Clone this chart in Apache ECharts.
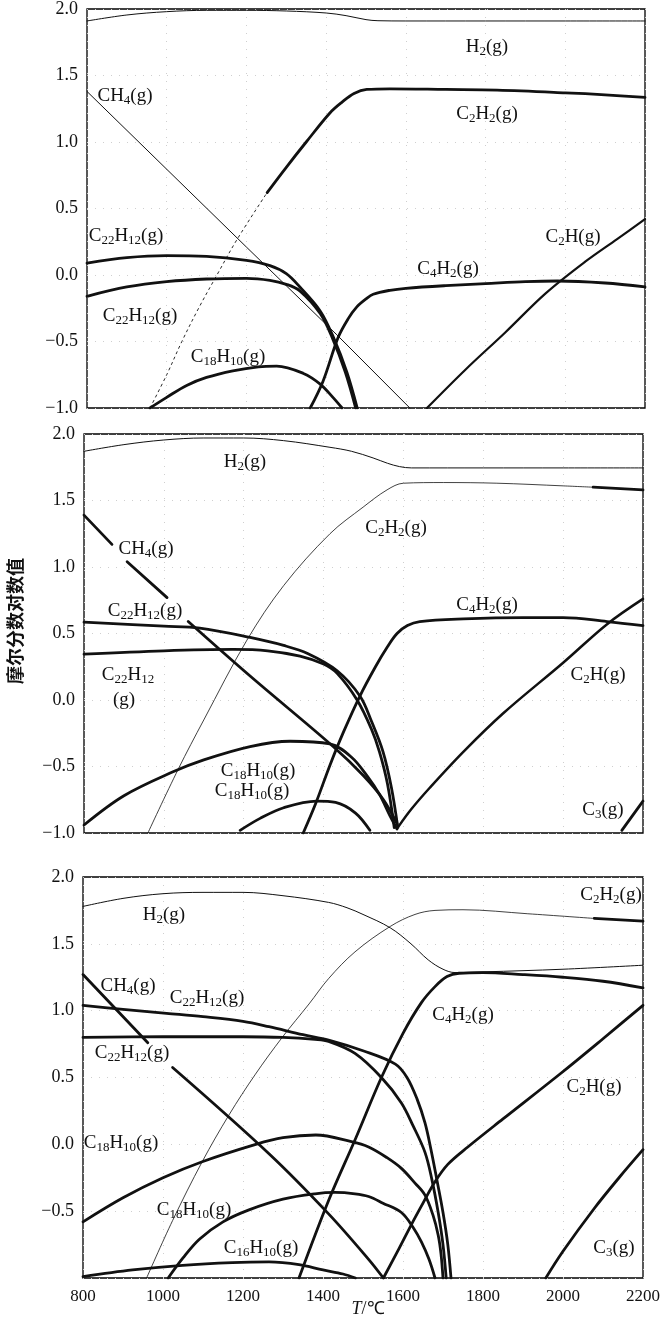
<!DOCTYPE html>
<html><head><meta charset="utf-8">
<script src="https://cdn.jsdelivr.net/npm/echarts@6/dist/echarts.min.js"></script>
<style>html,body{margin:0;padding:0;background:#fff}#c{width:663px;height:1327px}</style>
</head><body><div id="c"></div>
<script>
// ---- axes ----
const xTicks = [800, 1000, 1200, 1400, 1600, 1800, 2000, 2200];
const yTicks = [-1.0, -0.5, 0.0, 0.5, 1.0, 1.5, 2.0];

// ---- panel 1 ----
const p1_H2 = [[800,1.91],[900,1.955],[1000,1.98],[1100,1.99],[1200,1.99],[1300,1.985],[1400,1.97],[1450,1.95],[1500,1.92],[1530,1.912],[1600,1.91],[1800,1.91],[2000,1.91],[2200,1.91]];
const p1_C2H2_dash = [[958,-1.0],[1000,-0.75],[1038,-0.5],[1080,-0.25],[1126,0.0],[1176,0.265],[1252,0.62]];
const p1_C2H2 = [[1252,0.62],[1300,0.81],[1350,1.0],[1410,1.22],[1440,1.3],[1470,1.365],[1502,1.395],[1560,1.4],[1700,1.395],[1829,1.39],[2000,1.37],[2100,1.355],[2200,1.335]];
const p1_CH4 = [[800,1.38],[1200,0.21],[1427,-0.45],[1610,-1.0]];
const p1_C22H12_a = [[800,0.09],[900,0.13],[1000,0.145],[1100,0.14],[1200,0.11],[1259,0.07],[1300,0.01],[1334,-0.09],[1385,-0.27],[1417,-0.46],[1452,-0.73],[1478,-1.0]];
const p1_C22H12_b = [[800,-0.16],[900,-0.09],[1000,-0.05],[1100,-0.03],[1200,-0.025],[1259,-0.04],[1300,-0.07],[1334,-0.12],[1385,-0.29],[1415,-0.47],[1448,-0.73],[1474,-1.0]];
const p1_C18H10 = [[958,-1.0],[1000,-0.92],[1050,-0.83],[1100,-0.77],[1166,-0.72],[1230,-0.69],[1276,-0.685],[1343,-0.74],[1385,-0.82],[1417,-0.92],[1440,-1.0]];
const p1_C4H2 = [[1360,-1.0],[1392,-0.8],[1430,-0.47],[1455,-0.33],[1477,-0.24],[1500,-0.18],[1518,-0.145],[1560,-0.115],[1600,-0.1],[1700,-0.08],[1800,-0.065],[1900,-0.05],[1980,-0.045],[2100,-0.06],[2200,-0.09]];
const p1_C2H = [[1653,-1.0],[1750,-0.71],[1850,-0.43],[1950,-0.14],[2050,0.1],[2130,0.27],[2200,0.42]];

// ---- panel 2 ----
const p2_H2 = [[800,1.87],[900,1.92],[1000,1.955],[1100,1.97],[1200,1.97],[1300,1.95],[1416,1.9],[1470,1.87],[1524,1.82],[1560,1.78],[1590,1.755],[1620,1.745],[1800,1.745],[2000,1.745],[2200,1.745]];
const p2_C2H2_thin = [[960,-1.0],[1036,-0.52],[1100,-0.15],[1208,0.45],[1300,0.86],[1416,1.25],[1499,1.45],[1559,1.58],[1600,1.63],[1700,1.635],[1834,1.63],[2000,1.61],[2075,1.6]];
const p2_C2H2_thick = [[2075,1.6],[2200,1.58]];
const p2_CH4_a = [[800,1.39],[870,1.17]];
const p2_CH4_b = [[908,1.04],[1008,0.77]];
const p2_CH4_c = [[1061,0.59],[1216,0.18],[1424,-0.35],[1500,-0.57],[1550,-0.75],[1584,-0.93]];
const p2_C22H12_a = [[800,0.585],[1000,0.555],[1090,0.54],[1216,0.47],[1300,0.41],[1360,0.35],[1434,0.22],[1491,0.03],[1520,-0.16],[1549,-0.39],[1570,-0.66],[1586,-0.96]];
const p2_C22H12_b = [[800,0.345],[1000,0.37],[1173,0.38],[1260,0.37],[1341,0.33],[1400,0.27],[1434,0.2],[1484,0.0],[1520,-0.22],[1540,-0.39],[1560,-0.63],[1577,-0.96]];
const p2_C18H10_a = [[800,-0.94],[900,-0.72],[1023,-0.54],[1100,-0.45],[1216,-0.35],[1316,-0.31],[1416,-0.33],[1470,-0.43],[1509,-0.57],[1540,-0.71],[1566,-0.87],[1584,-0.97]];
const p2_C18H10_b = [[1191,-0.98],[1241,-0.89],[1300,-0.81],[1383,-0.76],[1430,-0.77],[1480,-0.85],[1516,-0.98]];
const p2_C4H2 = [[1349,-1.0],[1380,-0.78],[1416,-0.49],[1450,-0.24],[1491,0.03],[1530,0.25],[1560,0.4],[1584,0.5],[1610,0.56],[1641,0.59],[1750,0.61],[1900,0.62],[2000,0.62],[2110,0.59],[2200,0.56]];
const p2_C2H = [[1588,-0.95],[1620,-0.82],[1666,-0.66],[1750,-0.39],[1850,-0.1],[2000,0.28],[2110,0.57],[2200,0.76]];
const p2_C3 = [[2147,-0.98],[2200,-0.76]];

// ---- panel 3 ----
const p3_H2 = [[800,1.78],[900,1.84],[1000,1.875],[1100,1.885],[1200,1.885],[1300,1.86],[1414,1.81],[1460,1.77],[1500,1.72],[1568,1.62],[1620,1.5],[1663,1.38],[1700,1.31],[1730,1.285],[1800,1.29],[2000,1.31],[2200,1.34]];
const p3_C2H2_thin = [[959,-1.0],[1024,-0.57],[1098,-0.13],[1165,0.22],[1230,0.52],[1298,0.8],[1365,1.05],[1414,1.24],[1480,1.44],[1568,1.63],[1630,1.72],[1680,1.75],[1750,1.755],[1912,1.725],[2078,1.69]];
const p3_C2H2_thick = [[2078,1.69],[2200,1.67]];
const p3_CH4_a = [[800,1.27],[962,0.76]];
const p3_CH4_b = [[1024,0.575],[1265,-0.07],[1414,-0.52],[1514,-0.86],[1551,-1.0]];
const p3_C22H12_a = [[800,1.04],[900,1.01],[1009,0.98],[1100,0.955],[1200,0.92],[1265,0.88],[1350,0.82],[1414,0.78],[1500,0.7],[1581,0.6],[1610,0.5],[1635,0.34],[1655,0.16],[1670,-0.04],[1685,-0.27],[1700,-0.51],[1712,-0.75],[1720,-1.0]];
const p3_C22H12_b = [[800,0.8],[1000,0.805],[1200,0.805],[1300,0.8],[1380,0.785],[1414,0.77],[1480,0.68],[1546,0.5],[1596,0.31],[1625,0.14],[1655,-0.06],[1672,-0.26],[1688,-0.51],[1700,-0.75],[1708,-1.0]];
const p3_C18H10_a = [[800,-0.58],[900,-0.4],[1000,-0.25],[1098,-0.13],[1232,0.0],[1300,0.05],[1382,0.07],[1471,0.02],[1514,-0.02],[1560,-0.1],[1596,-0.18],[1630,-0.29],[1655,-0.38],[1675,-0.53],[1688,-0.68],[1695,-0.82],[1700,-1.0]];
const p3_C18H10_b = [[1013,-1.0],[1050,-0.85],[1091,-0.71],[1150,-0.58],[1215,-0.49],[1300,-0.41],[1380,-0.37],[1430,-0.36],[1480,-0.37],[1514,-0.39],[1550,-0.44],[1596,-0.51],[1625,-0.62],[1646,-0.73],[1665,-0.86],[1680,-1.0]];
const p3_C16H10 = [[800,-0.99],[924,-0.94],[1049,-0.905],[1173,-0.885],[1265,-0.88],[1340,-0.9],[1400,-0.94],[1450,-0.97],[1481,-1.0]];
const p3_C4H2 = [[1340,-1.0],[1414,-0.42],[1481,0.04],[1546,0.5],[1600,0.83],[1646,1.06],[1680,1.18],[1710,1.255],[1740,1.28],[1800,1.285],[1900,1.27],[2000,1.25],[2100,1.22],[2200,1.17]];
const p3_C2H = [[1551,-1.0],[1590,-0.78],[1621,-0.6],[1650,-0.44],[1680,-0.28],[1712,-0.15],[1762,-0.02],[1850,0.19],[1994,0.53],[2100,0.79],[2200,1.04]];
const p3_C3 = [[1957,-1.0],[2000,-0.8],[2078,-0.48],[2140,-0.25],[2200,-0.04]];

const SERIF = '"Liberation Serif","Times New Roman",serif';
const INK = '#111';
const THICK = 2.8, THIN = 1.0, HAIR = 0.8;

function S(data, g, w, extra) {
  return Object.assign({
    type: 'line', xAxisIndex: g, yAxisIndex: g, data: data,
    symbol: 'none', showSymbol: false, smooth: 0.35,
    lineStyle: { color: INK, width: w, cap: 'round', join: 'round' },
    silent: true, animation: false, z: 3
  }, extra || {});
}

const grids = [
  { left: 87, top: 8, width: 558, height: 400 },
  { left: 84, top: 434, width: 559, height: 399 },
  { left: 83, top: 877, width: 563, height: 401 }
].map(g => Object.assign(g, { show: true, borderColor: '#000', borderWidth: 1.3, backgroundColor: 'transparent' }));

const gridLine = { show: true, lineStyle: { color: '#cfcfcf', width: 1, type: [1, 7] } };

const xAxes = [0, 1, 2].map(i => ({
  type: 'value', gridIndex: i, min: xTicks[0], max: xTicks[xTicks.length - 1], interval: 200,
  axisLine: { show: false }, axisTick: { show: false },
  axisLabel: { show: i === 2, color: INK, fontSize: 17, fontFamily: SERIF, margin: 10, formatter: v => String(v) },
  splitLine: gridLine
}));

const yAxes = [0, 1, 2].map(i => ({
  type: 'value', gridIndex: i, min: yTicks[0], max: yTicks[yTicks.length - 1], interval: 0.5,
  axisLine: { show: false }, axisTick: { show: false },
  axisLabel: {
    color: INK, fontSize: 18, fontFamily: SERIF, margin: 9,
    formatter: v => (i === 2 && v === -1) ? '' : (v < 0 ? '\u2212' : '') + Math.abs(v).toFixed(1)
  },
  splitLine: gridLine
}));

const series = [
  S(p1_H2, 0, THIN), S(p1_C2H2_dash, 0, THIN, { lineStyle: { color: INK, width: 0.9, type: [3, 3] } }),
  S(p1_C2H2, 0, THICK), S(p1_CH4, 0, THIN, { smooth: false }), S(p1_C22H12_a, 0, THICK), S(p1_C22H12_b, 0, THICK),
  S(p1_C18H10, 0, THICK), S(p1_C4H2, 0, THICK), S(p1_C2H, 0, THICK - 0.6),

  S(p2_H2, 1, THIN), S(p2_C2H2_thin, 1, HAIR), S(p2_C2H2_thick, 1, THICK),
  S(p2_CH4_a, 1, THICK), S(p2_CH4_b, 1, THICK), S(p2_CH4_c, 1, THICK),
  S(p2_C22H12_a, 1, THICK), S(p2_C22H12_b, 1, THICK), S(p2_C18H10_a, 1, THICK), S(p2_C18H10_b, 1, THICK),
  S(p2_C4H2, 1, THICK), S(p2_C2H, 1, THICK - 0.3), S(p2_C3, 1, THICK),

  S(p3_H2, 2, THIN), S(p3_C2H2_thin, 2, HAIR), S(p3_C2H2_thick, 2, THICK),
  S(p3_CH4_a, 2, THICK), S(p3_CH4_b, 2, THICK),
  S(p3_C22H12_a, 2, THICK), S(p3_C22H12_b, 2, THICK), S(p3_C18H10_a, 2, THICK), S(p3_C18H10_b, 2, THICK),
  S(p3_C16H10, 2, THICK), S(p3_C4H2, 2, THICK), S(p3_C2H, 2, THICK), S(p3_C3, 2, THICK)
];

const subRich = { s: { fontSize: 13, fontFamily: SERIF, fill: INK, color: INK, verticalAlign: 'bottom', lineHeight: 13 } };
function T(text, x, y) {
  return {
    type: 'text', x: x, y: y, silent: true, z: 10,
    style: {
      text: text, fill: INK, fontSize: 19, fontFamily: SERIF, lineHeight: 22,
      align: 'center', verticalAlign: 'middle', textAlign: 'center', textVerticalAlign: 'middle',
      rich: subRich
    }
  };
}

const graphics = [
  // panel 1
  T('H{s|2}(g)', 487, 47), T('C{s|2}H{s|2}(g)', 487, 114), T('CH{s|4}(g)', 125, 96),
  T('C{s|22}H{s|12}(g)', 126, 236), T('C{s|22}H{s|12}(g)', 140, 316), T('C{s|18}H{s|10}(g)', 228, 357),
  T('C{s|4}H{s|2}(g)', 448, 269), T('C{s|2}H(g)', 573, 237),
  // panel 2
  T('H{s|2}(g)', 245, 462), T('C{s|2}H{s|2}(g)', 396, 528), T('CH{s|4}(g)', 146, 549),
  T('C{s|22}H{s|12}(g)', 145, 611), T('C{s|22}H{s|12}', 128, 675), T('(g)', 124, 700),
  T('C{s|18}H{s|10}(g)', 258, 771), T('C{s|18}H{s|10}(g)', 252, 791),
  T('C{s|4}H{s|2}(g)', 487, 605), T('C{s|2}H(g)', 598, 675), T('C{s|3}(g)', 603, 810),
  // panel 3
  T('H{s|2}(g)', 164, 915), T('CH{s|4}(g)', 128, 986), T('C{s|22}H{s|12}(g)', 207, 998),
  T('C{s|22}H{s|12}(g)', 132, 1053), T('C{s|18}H{s|10}(g)', 121, 1143), T('C{s|18}H{s|10}(g)', 194, 1210),
  T('C{s|16}H{s|10}(g)', 261, 1248), T('C{s|2}H{s|2}(g)', 611, 895), T('C{s|4}H{s|2}(g)', 463, 1015),
  T('C{s|2}H(g)', 594, 1087), T('C{s|3}(g)', 614, 1248),
  // axis names
  {
    type: 'text', x: 15, y: 621, rotation: Math.PI / 2, silent: true,
    style: { text: '摩尔分数对数值', fill: INK, fontSize: 18, fontWeight: 'bold', fontFamily: '"Noto Sans CJK SC",sans-serif',
      align: 'center', verticalAlign: 'middle', textAlign: 'center', textVerticalAlign: 'middle' }
  },
  {
    type: 'text', x: 368, y: 1309, silent: true,
    style: { text: '{i|T}/℃', fill: INK, fontSize: 18, fontFamily: SERIF,
      align: 'center', verticalAlign: 'middle', textAlign: 'center', textVerticalAlign: 'middle',
      rich: { i: { fontSize: 18, fontFamily: SERIF, fontStyle: 'italic', fill: INK, color: INK } } }
  }
];

const chart = echarts.init(document.getElementById('c'), null, { renderer: 'canvas' });
chart.setOption({
  animation: false, backgroundColor: '#fff',
  grid: grids, xAxis: xAxes, yAxis: yAxes, series: series, graphic: graphics
});
</script>
</body></html>
